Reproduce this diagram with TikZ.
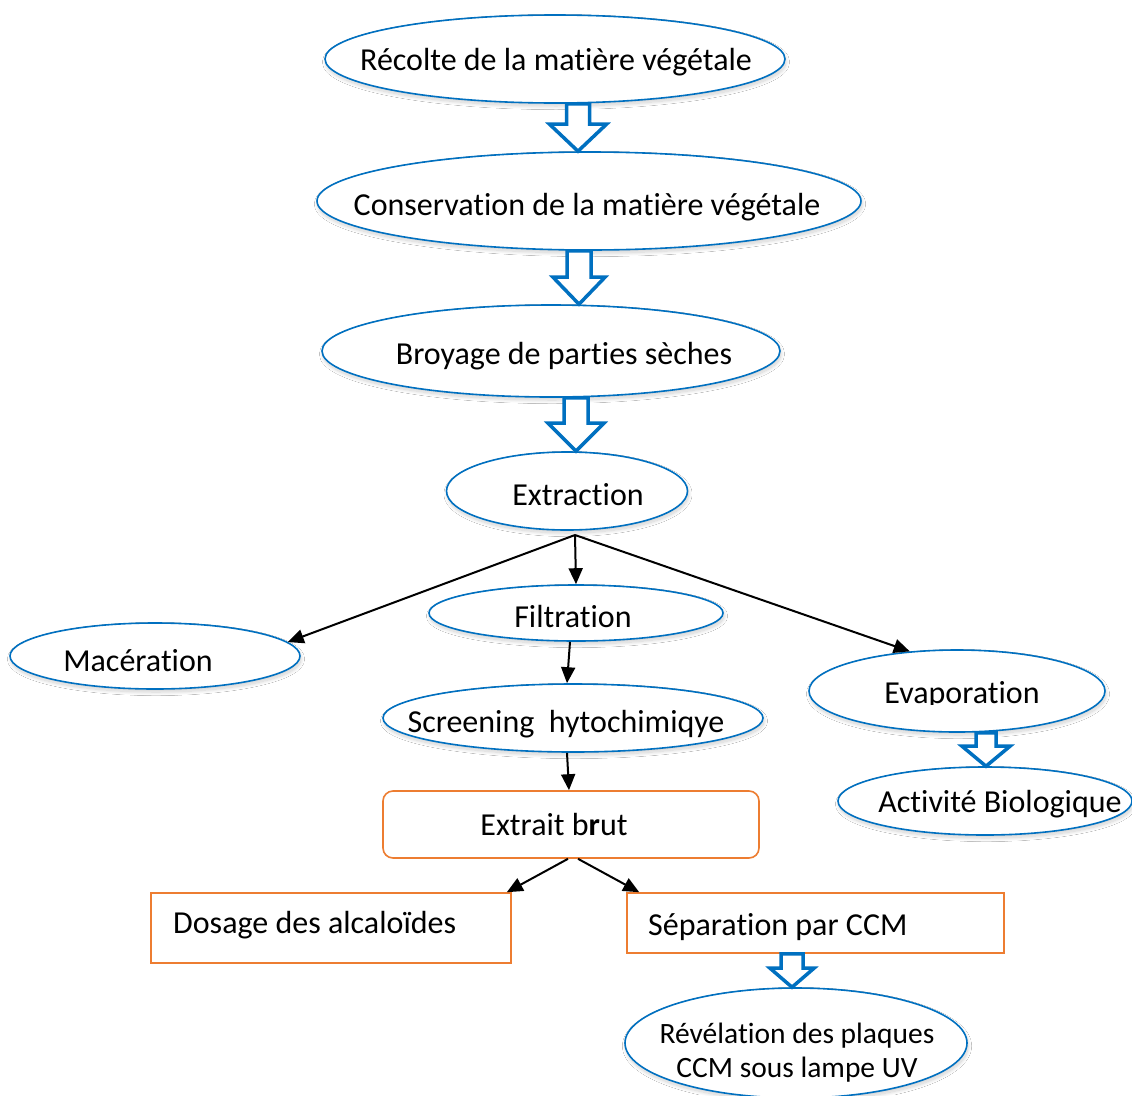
\documentclass[tikz,border=0pt]{standalone}
\usepackage{fontspec}
\setmainfont{Carlito}[Ligatures=NoCommon]
\usetikzlibrary{shapes.geometric,arrows.meta,calc,shadows.blur}
\definecolor{stepblue}{HTML}{0070C0}
\definecolor{boxorange}{HTML}{ED7D31}

% hollow block arrow: #1 x position, #2 upper node, #3 lower node,
% #4 half shaft width, #5 half head width, #6 head length
\newcommand\hollowarrow[6]{%
  \draw[blockarrow] let \p1=(#1,0 |- #2.south), \p2=(#1,0 |- #3.north) in
    (\x1-#4pt,\y1) -- (\x1+#4pt,\y1) -- (\x1+#4pt,\y2+#6pt) -- (\x1+#5pt,\y2+#6pt)
    -- (\x2,\y2) -- (\x1-#5pt,\y2+#6pt) -- (\x1-#4pt,\y2+#6pt) -- cycle;}

\begin{document}
\begin{tikzpicture}[x=1pt,y=-1pt,
  oval/.style={ellipse, draw=stepblue, line width=1.6pt, fill=white, inner sep=0pt,
    blur shadow={shadow xshift=1pt, shadow yshift=-3pt, shadow opacity=20,
      shadow blur radius=3.5pt, shadow blur steps=24}},
  txt/.style={font=\fontsize{32}{38}\selectfont, inner sep=0pt, anchor=base},
  smalltxt/.style={font=\fontsize{29.5}{35}\selectfont, inner sep=0pt, anchor=base},
  obox/.style={rectangle, draw=boxorange, line width=1.6pt, fill=white, inner sep=0pt},
  flow/.style={line width=2pt, -{Triangle[length=16pt,width=14pt]}},
  blockarrow/.style={draw=stepblue, line width=3.5pt, fill=white, line join=miter}
]
\clip (0,0) rectangle (1132,1095);
\fill[white] (0,0) rectangle (1132,1095);

% main chain
\node[oval, minimum width=460pt, minimum height=88pt] (r) at (555,59) {};
\node[txt] (rt) at (556,70) {Récolte de la matière végétale};
\node[oval, minimum width=544pt, minimum height=98pt] (c) at (589,201) {};
\node[txt] (ct) at (587,215) {Conservation de la matière végétale};
\node[oval, minimum width=458pt, minimum height=92pt] (b) at (551,351) {};
\node[txt] (bt) at (564,364) {Broyage de parties sèches};
\node[oval, minimum width=241pt, minimum height=78pt] (x) at (567,491) {};
\begin{scope}
  \clip (440,470) rectangle (700,506);
  \node[txt] (xt) at (578,505) {Extraction};
\end{scope}

% branches
\node[oval, minimum width=294pt, minimum height=56pt] (f) at (576,613) {};
\node[txt] (ft) at (573,627) {Filtration};
\node[oval, minimum width=290pt, minimum height=66pt] (m) at (155,656) {};
\node[txt] (mt) at (138,671) {Macération};
\node[oval, minimum width=296pt, minimum height=82pt] (e) at (957,691) {};
\begin{scope}
  \clip (820,660) rectangle (1100,704);
  \node[txt] (et) at (962,703) {Evaporation};
\end{scope}
\node[oval, minimum width=380pt, minimum height=68pt] (s) at (573,718) {};
\node[txt] (st) at (566,732) {Screening\ \ hytochimiqye};
\node[oval, minimum width=294pt, minimum height=68pt] (a) at (985,801) {};
\node[txt] (at) at (1000,812) {Activité Biologique};

% boxes
\node[obox, rounded corners=10pt, minimum width=376pt, minimum height=67pt] (eb) at (571,824.5) {};
\node[txt] (ebt) at (554,835) {Extrait b\textbf{r}ut};
\node[obox, minimum width=360pt, minimum height=70pt] (d) at (331,928) {};
\node[txt, anchor=base west] (dt) at (173,933) {Dosage des alcaloïdes};
\node[obox, minimum width=377pt, minimum height=60pt] (p) at (815.5,923) {};
\node[txt, anchor=base west] (pt) at (648,935) {Séparation par CCM};
\node[oval, minimum width=342pt, minimum height=110pt] (v) at (796,1043) {};
\node[smalltxt] (v1) at (797,1043) {Révélation des plaques};
\node[smalltxt] (v2) at (797,1077) {CCM sous lampe UV};

% hollow arrows
\hollowarrow{578}{r}{c}{11.5}{28.5}{27}
\hollowarrow{579}{c}{b}{12}{26}{27}
\hollowarrow{576}{b}{x}{12}{28}{28}
\hollowarrow{986}{e}{a}{10}{24}{20}
\hollowarrow{792}{p}{v}{11}{22}{19}

% thin arrows
\coordinate (fork) at (575,535);
\draw[flow] (fork) -- (f.north);
\draw[flow] (fork) -- (m.6);
\draw[flow] (fork) -- (e.140);
\draw[flow] ([xshift=-6pt]f.south) -- ([xshift=-6pt]s.north);
\draw[flow] ([xshift=-6pt]s.south) -- ([xshift=-2pt]eb.north);
\draw[flow] ([xshift=-3pt]eb.south) -- ([xshift=-5pt]d.north east);
\draw[flow] ([xshift=7pt]eb.south) -- ([xshift=13pt]p.north west);
\end{tikzpicture}
\end{document}
